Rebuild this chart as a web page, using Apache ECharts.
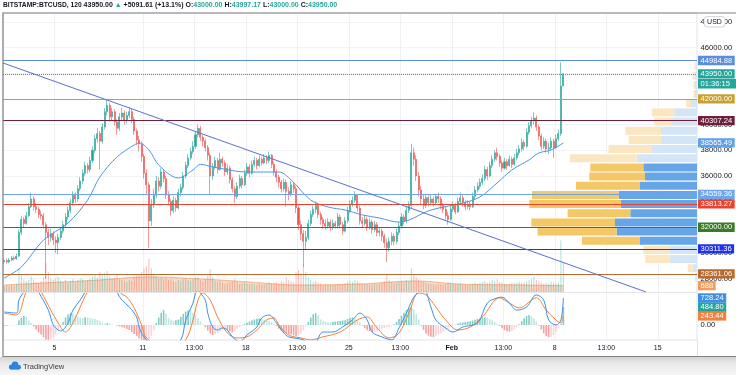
<!DOCTYPE html>
<html><head><meta charset="utf-8">
<script src="https://cdn.jsdelivr.net/npm/echarts@6/dist/echarts.min.js"></script>
<style>html,body{margin:0;padding:0;background:#fff;}#c{width:736px;height:375px;}</style>
</head><body><div id="c"></div>
<script>
const FONT = 'Liberation Sans, Arial, sans-serif';

// ---------- header ----------
const header = {symbol:'BITSTAMP:BTCUSD', interval:'120', last:'43950.00', change:'+5091.61', changePct:'+13.1%', o:'43000.00', h:'43997.17', l:'43000.00', c:'43950.00'};

// ---------- time axis (4h slots starting Jan 1 12:00) ----------
const N_SLOTS = 283;
const tickSlots  = [21, 57, 78, 99, 120, 141, 162, 183, 204, 225, 246, 267];
const tickLabels = ['5','11','13:00','18','13:00','25','13:00','Feb','13:00','8','13:00','15'];

// ---------- candles: [close, low, high], open = previous close ----------
const firstOpen = 29300;
const candleCLH = [
[29400,29100,29600],[29300,29150,29550],[29450,29200,29600],[29600,29350,29750],[29550,29400,29800],[29750,29450,29950],
[31600,29700,31800],[32600,31400,32900],[32300,32000,32800],[32900,32200,33200],[33600,32800,33900],[34200,33500,34700],
[33600,33300,34400],[33400,33100,33900],[33000,32700,33600],[32900,32600,33300],[32200,31900,33100],[31600,28000,32400],
[31200,30600,31900],[31500,30900,31900],[31000,30600,31700],[30800,30000,31300],[31200,29900,31500],[31700,31000,32000],
[32200,31500,32500],[32800,32000,33100],[33300,32600,33600],[33900,33100,34200],[34500,33700,34800],[34200,33900,34700],
[35000,34000,35300],[35600,34800,35900],[36200,35400,36500],[36800,36000,37100],[36500,36200,37000],[37200,36300,37500],
[38000,37000,38300],[38900,37800,39200],[39300,38600,39700],[38700,36500,39500],[39800,38500,40100],[41000,39600,41300],
[41500,40700,41950],[40600,40200,41700],[41000,40300,41300],[40200,39900,41200],[39700,39200,40400],[40600,39500,40900],
[40900,40300,41300],[40300,40000,41100],[40700,40100,41000],[41000,40500,41350],[40400,40100,41200],[39500,39200,40600],
[38800,38400,39700],[38500,37900,39100],[37500,37100,38700],[36200,35800,37700],[35300,34600,36500],[32500,30400,35500],
[33800,32100,34200],[34500,33500,35000],[35600,34300,36000],[35200,34800,35900],[36300,35000,36600],[35800,35500,36500],
[34500,34200,36000],[34000,33700,34800],[33300,32900,34200],[34100,33100,34400],[33500,33200,34300],[34700,33400,35000],
[35100,34400,35400],[36000,34900,36300],[36800,35800,37100],[37400,36600,37700],[37900,37200,38200],[38300,37700,38700],
[39200,38100,39500],[39700,39000,40000],[39000,38700,39900],[38700,38300,39200],[38200,37900,38900],[37600,37200,38400],
[36000,34600,37800],[36700,35700,37000],[37200,36500,37500],[36500,36200,37400],[37300,36400,37800],[37000,36700,37500],
[36300,36000,37200],[36600,36100,36900],[35700,35400,36800],[35000,34700,35900],[34400,33900,35200],[35200,34200,35500],
[35800,35000,36100],[35300,35000,36000],[36200,35200,36500],[36700,36000,37000],[36200,35900,36900],[36900,36100,37200],
[37200,36700,37500],[36800,36500,37400],[37300,36700,37600],[37000,36800,37500],[37400,36900,37700],[37200,36900,37600],
[37600,37000,37900],[36900,36600,37700],[36300,36000,37100],[35900,35500,36500],[35500,35100,36100],[35000,34700,35700],
[35500,34800,35800],[34800,33600,35700],[34600,34100,35100],[35300,34400,35600],[35000,34700,35500],[33500,33100,35200],
[32200,31800,33700],[31500,31000,32500],[30900,28900,31800],[31200,30300,31700],[32300,31000,32600],[33000,32100,33300],
[33400,32800,33700],[33700,33100,34000],[33000,32700,33900],[32600,32200,33200],[32300,31900,32800],[32100,31800,32600],
[32400,31900,32700],[32000,31700,32600],[32300,31800,32600],[32100,31900,32500],[32800,31900,33100],[32200,31900,33000],
[31700,31400,32400],[32500,31600,32800],[33300,32300,33600],[33800,33100,34100],[34100,33600,34400],[34500,33900,34800],
[33500,33200,34600],[32500,32200,33700],[32300,32000,32800],[32600,32100,32900],[32000,31700,32800],[32400,31800,32700],
[31800,31500,32600],[32200,31600,32500],[31600,31300,32400],[31700,31300,32000],[31300,30900,31900],[30800,30400,31500],
[30400,29300,31100],[30900,30100,31200],[31300,30600,31600],[30900,30600,31500],[31600,30700,31900],[32100,31400,32400],
[32800,31900,33100],[32500,32200,33000],[33300,32300,33600],[33700,33100,34000],[37800,33500,38500],[37300,36800,38200],
[36000,35600,37600],[34900,34400,36300],[34200,33800,35200],[33700,33400,34600],[34300,33500,34600],[33900,33600,34500],
[34200,33700,34500],[33900,33600,34400],[34400,33800,34600],[34200,33900,34700],[33700,33400,34400],[33400,33100,33900],
[32900,32600,33600],[32600,32200,33200],[33400,32500,33700],[33700,33200,34000],[33200,33000,33900],[34000,33100,34300],
[34300,33800,34700],[33900,33600,34500],[33600,33300,34100],[33800,33400,34100],[33600,33300,34000],[34400,33500,34700],
[34900,34200,35200],[35200,34700,35500],[35500,35000,35800],[35800,35300,36100],[36500,35600,36800],[36000,35700,36700],
[36800,35900,37100],[37300,36600,37600],[37800,37100,38000],[37500,37200,38200],[37000,36700,37700],[36600,36300,37200],
[37100,36500,37400],[36800,36500,37300],[37300,36700,37600],[36900,36600,37500],[37400,36800,37700],[37800,37200,38100],
[38100,37600,38400],[38600,37900,38900],[38300,38000,38800],[39400,38200,39700],[39900,39200,40200],[40300,39700,40600],
[40500,40000,40950],[39800,39500,40700],[39100,38800,40000],[38300,38000,39300],[38700,38100,39000],[38100,37800,38900],
[38200,37700,38600],[38700,38000,39000],[38200,37400,38900],[38900,38100,39200],[39300,38700,39600],[43000,39100,44850],
[43950,43000,43997]
];

// ---------- moving average (slot, price) ----------
const maPoints = [[0,28050],[7,28900],[16,31000],[26,32330],[34,34120],[39,35910],[46,37470],[53,38410],[55,38560],[59,38020],
[63,36850],[71,35840],[77,36460],[80,36900],[85,36700],[99,36300],[112,36300],[117,35680],[125,34120],[132,33580],[139,33340],
[146,32960],[153,32720],[161,32400],[174,33340],[187,33890],[194,34360],[201,35450],[207,36460],[214,37240],[218,37780],
[223,38020],[228,38565.49]];
const maLast = 38565.49;

// ---------- drawn trend line (slot, price) ----------
const trendPoints = [[-0.5,44793],[261.7,26959]];

// ---------- horizontal levels ----------
const levels = [44984.88, 42000.00, 40307.24, 34559.36, 33813.27, 32000.00, 30311.36, 28361.06];
const levelColors = ['#5b8ddc','#c9a030','#6e1f3c','#6fa5ec','#e8432e','#3b7a28','#1f32e6','#b86a2e'];
const lastPrice = 43950.00;
const countdown = '01:36:15';

// ---------- volume ----------
const volumes = [
600,700,650,800,700,900,2600,2000,1400,1200, 1300,1700,1400,1100,1000,1200,1600,3200,2200,1500,
1300,1500,1700,1200,1100,1300,1000,1200,1400,1100, 1300,1500,1400,1200,1300,1500,1700,1900,1600,2200,
1800,2100,2300,1700,1500,1600,1800,1400,1300,1200, 1100,1300,1200,1600,1800,1900,2200,2600,2800,3600,
2600,2000,1800,1500,1600,1400,1500,1300,1400,1200, 1100,1300,1200,1400,1500,1300,1200,1400,1600,1700,
1300,1200,1400,1800,2500,1600,1200,1100,1200,1000, 900,1000,1100,1200,1400,1100,900,1000,1000,900,
800,900,850,800,900,800,850,900,1100,900, 1000,1100,1000,1200,1100,1600,1300,1200,1100,2200,
2400,2000,3000,2200,1600,1300,1100,1200,1000,900, 800,900,850,800,750,800,900,850,900,1000,
1100,1200,1100,1300,1200,1000,900,850,900,800, 800,900,850,900,1000,1200,2000,1300,1100,1000,
1000,1100,1200,1100,1300,1200,2600,2000,1600,1400, 1200,1100,1000,900,900,850,800,900,850,800,
900,1100,1000,900,850,900,1000,850,800,750, 800,900,1000,900,1000,1100,1200,1000,1100,1300,
1200,1400,1100,1000,900,850,900,1000,950,1000, 1100,1000,1000,1200,1300,1400,1700,1300,1200,1100,
900,1000,900,1100,1000,900,1000,5600,3200];
const volMA = [[0,760],[16,980],[39,1310],[59,1640],[80,1420],[100,1090],[120,760],[145,870],[168,1200],[185,870],[211,760],[228,688]];
const volMALast = 688;

// ---------- MACD ----------
const macdLine = [[0,350],[5,320],[6,670],[8,890],[11,1250],[14,890],[18,400],[20,0],[22,-135],[23,-160],[26,50],[28,400],[31,670],
[33,890],[39,1500],[43,1550],[46,890],[48,670],[51,485],[54,215],[55,-55],[57,-320],[63,-700],[67,-600],[72,-400],[74,135],[77,590],
[78,860],[79,950],[80,860],[82,670],[83,320],[85,-55],[87,-135],[89,-80],[91,-135],[93,-320],[96,-450],[99,-270],[103,-55],[105,190],
[108,270],[111,55],[114,-215],[116,-320],[122,-400],[124,-520],[127,-460],[130,-190],[134,-190],[138,-55],[142,135],[145,320],[148,135],
[150,-190],[154,-320],[158,-400],[161,-80],[164,320],[167,750],[169,890],[171,980],[174,485],[176,135],[180,-80],[183,-190],[187,-55],
[193,55],[197,590],[201,730],[203,750],[206,590],[209,400],[213,485],[217,810],[220,670],[222,135],[225,0],[227,135],[228,728.24]];
const signalLine = [[0,320],[5,270],[9,890],[12,1100],[15,890],[19,400],[22,55],[25,-190],[28,55],[31,485],[34,890],[40,1350],[44,1400],
[47,890],[50,750],[53,460],[56,0],[58,-350],[65,-600],[70,-520],[74,-400],[77,135],[79,670],[81,860],[84,670],[87,215],[91,-215],[95,-350],
[99,-320],[103,-135],[107,135],[110,190],[112,0],[116,-270],[121,-350],[125,-400],[130,-320],[137,-190],[144,135],[148,215],[152,-80],
[157,-350],[161,-215],[165,320],[169,860],[172,810],[176,485],[180,135],[185,-135],[190,-55],[195,215],[202,730],[206,590],[210,460],
[217,730],[221,400],[225,135],[227,55],[228,243.44]];
const histogram = [
-20,-25,-15,-10,-5,10,120,200,240,220, 120,60,-40,-120,-200,-260,-330,-390,-400,-380,
-330,-250,-150,-40,80,200,280,320,300,260, 230,200,190,210,200,180,170,160,140,100,
60,40,50,30,10,0,-20,-40,-60,-80, -110,-140,-190,-240,-300,-360,-400,-420,-420,-400,
-300,-150,50,200,330,400,300,180,140,120, 130,150,220,300,360,400,380,330,260,180,
100,20,-60,-150,-230,-270,-250,-220,-180,-150, -130,-140,-170,-200,-160,-110,-60,-20,30,60,
90,120,150,170,180,160,140,120,100,80, 30,-30,-100,-160,-200,-230,-250,-260,-280,-300,
-280,-220,-150,-40,80,200,290,320,260,150, 110,90,80,70,80,90,100,110,120,130,
160,190,200,170,120,60,-20,-90,-140,-170, -190,-190,-170,-140,-110,-80,-60,-40,-20,20,
80,160,250,330,400,450,480,420,300,150, -20,-130,-230,-290,-320,-330,-300,-260,-220,-180,
-140,-100,-60,-20,10,40,60,70,80,90, 100,120,140,160,180,200,210,190,160,120,
80,30,-30,-90,-140,-170,-180,-160,-120,-60, 20,100,180,240,270,250,180,90,-20,-120,
-220,-300,-330,-320,-270,-180,-90,20,484.80];
const macdLast = 728.24, histLast = 484.80, signalLast = 243.44;

// ---------- visible-range volume profile: [rowLow, rowHigh, volA, volB, inValueArea] ----------
const profileRows = [
[27734,28448,100,100,0],[28448,29162,500,430,0],[29162,29876,2400,2770,0],[29876,30590,2600,2770,0],
[30590,31304,5800,5700,1],[31304,32018,7900,8040,1],[32018,32732,8370,8200,1],[32732,33446,6270,6670,1],
[33446,34160,9170,7600,1],[34160,34874,8660,7840,1],[34874,35588,6400,5700,1],[35588,36302,5570,5200,1],
[36302,37016,5300,5370,1],[37016,37730,6660,6040,0],[37730,38444,4340,4500,0],[38444,39158,3240,3600,0],
[39158,39872,3570,3600,0],[39872,40586,1670,2600,0],[40586,41300,2230,2270,0],[41300,42014,500,600,0],
[42014,42728,150,200,0],[42728,43442,150,200,0],[43442,44156,200,250,0],[44156,44870,100,150,0]];

// ---------- build ----------
const slots = Array.from({length:N_SLOTS}, (_, i) => String(i));
const bgSlots = Array.from({length:N_SLOTS + 1}, (_, i) => String(i));
const ohlc = []; let prev = firstOpen;
candleCLH.forEach(([c,l,h]) => { ohlc.push([prev, c, l, h]); prev = c; });
const upFlags = ohlc.map(r => r[1] >= r[0]);

const UP = '#26a69a', DOWN = '#ef5350';
const TAG_FS = 7.6;
function tagLabel(text, bg, fg){
  return {show:true, position:'end', distance:1, formatter:text, backgroundColor:bg || 'transparent',
    color: fg || '#fff', fontSize:TAG_FS, fontFamily:FONT, padding:[1,2.5,0.5,2.5], lineHeight:7.8, opacity:1};
}
function hiddenLine(){ return {color:'rgba(255,255,255,0)', width:0, opacity:1}; }

const chart = echarts.init(document.getElementById('c'), null, {renderer:'canvas', width:736, height:375});
const gridBase = {left:3, right:39, containLabel:false, outerBoundsMode:'none'};

const option = {
  animation:false,
  backgroundColor:'#ffffff',
  textStyle:{fontFamily:FONT},
  title:{
    left:3, top:2, padding:0,
    text:`{s|${header.symbol}, ${header.interval}} {d|${header.last}} {g|▲} {d|${header.change} (${header.changePct})} {d|O:}{g|${header.o}} {d|H:}{g|${header.h}} {d|L:}{g|${header.l}} {d|C:}{g|${header.c}}`,
    textStyle:{fontSize:7, fontFamily:FONT, rich:{
      s:{fontSize:6.7,fontWeight:'bold',color:'#131722',fontFamily:FONT},
      d:{fontSize:7,color:'#131722',fontFamily:FONT},
      g:{fontSize:7,color:UP,fontFamily:FONT}
    }}
  },
  grid:[
    Object.assign({}, gridBase, {top:13, bottom:35, show:true, borderColor:'#e0e3eb', borderWidth:1, backgroundColor:'transparent'}),
    Object.assign({}, gridBase, {top:21.8, bottom:96.4}),
    Object.assign({}, gridBase, {top:232, bottom:83}),
    Object.assign({}, gridBase, {top:292, bottom:35})
  ],
  xAxis:[
    {type:'category', gridIndex:0, data:bgSlots, boundaryGap:false,
     axisLine:{show:false}, axisTick:{show:false},
     axisLabel:{interval:(i)=>tickSlots.includes(i), margin:5, fontSize:7, color:'#131722', fontFamily:FONT,
       formatter:(v)=>{const k = tickSlots.indexOf(Number(v)); if (k<0) return ''; const t = tickLabels[k]; return /^[A-Z]/.test(t) ? '{b|'+t+'}' : t;},
       rich:{b:{fontWeight:'bold', fontSize:7, color:'#131722', fontFamily:FONT}}},
     splitLine:{show:true, interval:(i)=>tickSlots.includes(i), lineStyle:{color:'#eef0f5', width:1}}},
    {type:'category', gridIndex:1, data:slots, boundaryGap:true, show:false},
    {type:'value', gridIndex:1, min:-0.5, max:N_SLOTS-0.5, show:false},
    {type:'value', gridIndex:1, min:0, max:69400, inverse:true, show:false},
    {type:'category', gridIndex:2, data:slots, boundaryGap:true, show:false},
    {type:'value', gridIndex:2, min:-0.5, max:N_SLOTS-0.5, show:false},
    {type:'category', gridIndex:3, data:slots, boundaryGap:true, show:false},
    {type:'value', gridIndex:3, min:-0.5, max:N_SLOTS-0.5, show:false}
  ],
  yAxis:[
    {type:'value', gridIndex:0, min:0, max:1, show:false},
    {type:'value', gridIndex:1, position:'right', min:28000, max:48000, interval:2000,
     axisLine:{show:false}, axisTick:{show:false},
     axisLabel:{formatter:(v)=>v.toFixed(2), fontSize:TAG_FS, color:'#131722', margin:3.5, fontFamily:FONT},
     splitLine:{show:true, lineStyle:{color:'#f1f3f7', width:1}}},
    {type:'value', gridIndex:2, min:0, max:6540, show:false},
    {type:'value', gridIndex:3, min:-405, max:889, show:false}
  ],
  series:[
    {type:'line', xAxisIndex:0, yAxisIndex:0, data:[], silent:true},
    {type:'custom', xAxisIndex:3, yAxisIndex:1, z:1, silent:true, data:profileRows,
     encode:{x:[2,3], y:[0,1]},
     renderItem:(params, api)=>{
       const lo = api.value(0), hi = api.value(1), a = api.value(2), b = api.value(3), va = api.value(4);
       const pTop = api.coord([0, hi]), pBot = api.coord([0, lo]);
       const pB = api.coord([b, lo]), pA = api.coord([a + b, lo]);
       const y0 = pTop[1] + 0.6, h = Math.max(0.5, pBot[1] - pTop[1] - 1.2);
       const cA = va ? '#f4c866' : '#fbe6c2';
       const cB = va ? '#66a5e8' : '#d3e5f7';
       return {type:'group', children:[
         {type:'rect', shape:{x:pB[0], y:y0, width:pTop[0]-pB[0], height:h}, style:{fill:cB}},
         {type:'rect', shape:{x:pA[0], y:y0, width:pB[0]-pA[0], height:h}, style:{fill:cA}}
       ]};
     }},
    {type:'candlestick', xAxisIndex:1, yAxisIndex:1, z:3, data:ohlc, barWidth:'62%',
     itemStyle:{color:UP, color0:DOWN, borderColor:UP, borderColor0:DOWN, borderWidth:0.6}},
    {type:'line', xAxisIndex:2, yAxisIndex:1, z:4, data:maPoints, smooth:0.35, symbol:'none',
     lineStyle:{color:'#4f95e8', width:1},
     markLine:{silent:true, symbol:['none','none'], animation:false,
       data:[{yAxis:maLast, lineStyle:hiddenLine(), label:tagLabel(maLast.toFixed(2), '#5ea3ea')}]}},
    {type:'line', xAxisIndex:2, yAxisIndex:1, z:5, data:trendPoints, symbol:'none', clip:false,
     lineStyle:{color:'#5b70d2', width:1},
     markLine:{silent:true, symbol:['none','none'], animation:false,
       data: levels.map((v,i)=>({yAxis:v, lineStyle:{color:levelColors[i], width:1.2, type:'solid'}, label:tagLabel(v.toFixed(2), levelColors[i])}))
         .concat([{yAxis:lastPrice, lineStyle:{color:UP, width:1, type:'dotted'}, label:tagLabel(lastPrice.toFixed(2), UP)}])}},
    {type:'bar', xAxisIndex:4, yAxisIndex:2, z:2, barWidth:1, silent:true,
     data: volumes.map((v,i)=>({value:v, itemStyle:{color: upFlags[i] ? 'rgba(38,166,154,0.38)' : 'rgba(239,83,80,0.38)'}}))},
    {type:'line', xAxisIndex:5, yAxisIndex:2, z:1, data:volMA, smooth:0.4, symbol:'none',
     lineStyle:{color:'#f2a770', width:0.8}, areaStyle:{color:'rgba(244,168,116,0.6)'},
     markLine:{silent:true, symbol:['none','none'], animation:false,
       data:[{yAxis:volMALast, lineStyle:hiddenLine(), label:tagLabel(String(volMALast), '#f39c5b')}]}},
    {type:'bar', xAxisIndex:6, yAxisIndex:3, z:2, barWidth:'65%', silent:true,
     data: histogram.map((v,i)=>{
       const p = i>0 ? histogram[i-1] : 0;
       const col = v >= 0 ? (v >= p ? '#7fcdc3' : '#bfe5df') : (v < p ? '#f4a0a0' : '#fbd3d6');
       return {value:v, itemStyle:{color:col}};
     })},
    {type:'line', xAxisIndex:7, yAxisIndex:3, z:4, data:macdLine, smooth:0.35, symbol:'none',
     lineStyle:{color:'#3d8fe6', width:1},
     markLine:{silent:true, symbol:['none','none'], animation:false,
       data:[
         {yAxis:0, lineStyle:hiddenLine(), label:tagLabel('0.00', null, '#131722')},
         {yAxis:signalLast, lineStyle:hiddenLine(), label:tagLabel(signalLast.toFixed(2), '#f0823d')},
         {yAxis:histLast, lineStyle:hiddenLine(), label:tagLabel(histLast.toFixed(2), UP)},
         {yAxis:macdLast, lineStyle:hiddenLine(), label:tagLabel(macdLast.toFixed(2), '#3f8ee6')}
       ]}},
    {type:'line', xAxisIndex:7, yAxisIndex:3, z:3, data:signalLine, smooth:0.35, symbol:'none',
     lineStyle:{color:'#f0823d', width:1}}
  ]
};
chart.setOption(option);

// decorations (frame, badge, countdown, footer)
const yLast = chart.convertToPixel({yAxisIndex:1}, lastPrice);
const logoBlue = '#2a86e0';
chart.setOption({graphic:[
  {type:'rect', z:100, silent:true, shape:{x:0, y:357, width:736, height:18},
   style:{fill:new echarts.graphic.LinearGradient(0,0,0,1,[{offset:0,color:'#d4d4d4'},{offset:0.35,color:'#e9e9e9'},{offset:1,color:'#f6f6f6'}])}},
  {type:'line', z:100, silent:true, shape:{x1:3, y1:292.5, x2:697, y2:292.5}, style:{stroke:'#e3e5eb', lineWidth:1}},
  {type:'line', z:100, silent:true, shape:{x1:697.5, y1:340, x2:697.5, y2:356}, style:{stroke:'#e0e3eb', lineWidth:1}},
  {type:'rect', z:101, silent:true, shape:{x:3, y:13, width:740, height:343.5}, style:{fill:'none', stroke:'#808080', lineWidth:1.2}},
  {type:'rect', z:102, silent:true, shape:{x:704, y:16.5, width:21, height:10.5, r:3}, style:{fill:'#fff', stroke:'#c9ccd3', lineWidth:0.8}},
  {type:'text', z:103, silent:true, x:714.5, y:21.8, style:{text:'USD', fontSize:7, fontFamily:FONT, fill:'#131722', align:'center', verticalAlign:'middle'}},
  {type:'rect', z:102, silent:true, shape:{x:698, y:yLast+5.2, width:38, height:9.5}, style:{fill:UP}},
  {type:'text', z:103, silent:true, x:700.5, y:yLast+10, style:{text:countdown, fontSize:TAG_FS, fontFamily:FONT, fill:'#fff', verticalAlign:'middle'}},
  {type:'circle', z:104, silent:true, shape:{cx:11.5, cy:367, r:2.6}, style:{fill:logoBlue}},
  {type:'circle', z:104, silent:true, shape:{cx:15, cy:365, r:3.4}, style:{fill:logoBlue}},
  {type:'circle', z:104, silent:true, shape:{cx:18.6, cy:367.2, r:2.4}, style:{fill:logoBlue}},
  {type:'rect', z:104, silent:true, shape:{x:11.5, y:366.8, width:7.2, height:2.8}, style:{fill:logoBlue}},
  {type:'text', z:104, silent:true, x:23, y:366.5, style:{text:'TradingView', fontSize:7.5, fontFamily:FONT, fill:'#363a45', verticalAlign:'middle'}}
]});
</script>
</body></html>
